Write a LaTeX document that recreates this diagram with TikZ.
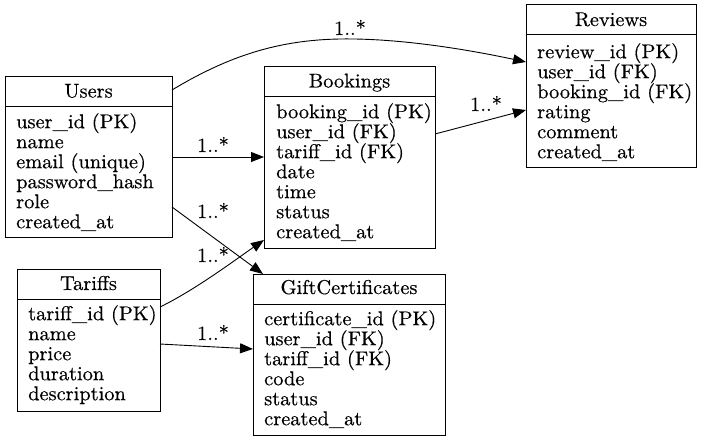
\documentclass[tikz,border=0pt]{standalone}
\usepackage{fontspec}
\setmainfont{lmroman10-regular.otf}[FakeStretch=1.02,FakeBold=0.5]
\usetikzlibrary{arrows.meta,calc}
\tikzset{
  tbl/.style={draw, line width=1pt, inner sep=0pt, outer sep=0pt, anchor=north west},
  hdr/.style={font=\fontsize{20}{20}\selectfont, inner sep=0pt, anchor=base},
  flds/.style={font=\fontsize{20}{20}\selectfont, inner sep=0pt, align=left, anchor=north west},
  card/.style={font=\fontsize{20}{20}\selectfont, inner sep=0pt, anchor=base},
  rel/.style={line width=0.9pt, -{Triangle[length=13pt,width=10pt]}},
  divl/.style={line width=1pt},
}
\begin{document}
\begin{tikzpicture}[x=1pt,y=-1pt]
\useasboundingbox (0,0) rectangle (703,441);
% tables
\node[tbl, minimum width=167pt, minimum height=160pt] (users) at (5,77) {};
\node[tbl, minimum width=171pt, minimum height=181pt] (bookings) at (264,67) {};
\node[tbl, minimum width=170pt, minimum height=162pt] (reviews) at (526,5) {};
\node[tbl, minimum width=143pt, minimum height=142pt] (tariffs) at (17,269) {};
\node[tbl, minimum width=192pt, minimum height=161pt] (gift) at (253,274) {};
% dividers
\foreach \t in {users,bookings,reviews,tariffs,gift}{
  \draw[divl] ($(\t.north west)+(0,-30pt)$) -- ($(\t.north east)+(0,-30pt)$);
}
% headers
\node[hdr] (usersh) at ($(users.north)+(0,-20.5pt)$) {Users};
\node[hdr] (bookingsh) at ($(bookings.north)+(0,-20.5pt)$) {Bookings};
\node[hdr] (reviewsh) at ($(reviews.north)+(0,-21pt)$) {Reviews};
\node[hdr] (tariffsh) at ($(tariffs.north)+(0,-21pt)$) {Tariffs};
\node[hdr] (gifth) at ($(gift.north)+(0,-20pt)$) {GiftCertificates};
% fields
\node[flds] (usersf) at ($(users.north west)+(11pt,-36pt)$)
  {user\_id (PK)\\name\\email (unique)\\password\_hash\\role\\created\_at};
\node[flds] (bookingsf) at ($(bookings.north west)+(12pt,-36pt)$)
  {booking\_id (PK)\\user\_id (FK)\\tariff\_id (FK)\\date\\time\\status\\created\_at};
\node[flds] (reviewsf) at ($(reviews.north west)+(11pt,-38pt)$)
  {review\_id (PK)\\user\_id (FK)\\booking\_id (FK)\\rating\\comment\\created\_at};
\node[flds] (tariffsf) at ($(tariffs.north west)+(11pt,-36pt)$)
  {tariff\_id (PK)\\name\\price\\duration\\description};
\node[flds] (giftf) at ($(gift.north west)+(11pt,-36pt)$)
  {certificate\_id (PK)\\user\_id (FK)\\tariff\_id (FK)\\code\\status\\created\_at};
% relations
\draw[rel] ($(users.north east)+(0,-13pt)$) .. controls (230,55) and (280,40) .. (340,39)
  .. controls (400,38) and (470,50) .. ($(reviews.north west)+(0,-57pt)$);
\node[card] (l1) at (350,35) {1..*};
\draw[rel] ($(users.north east)+(0,-80pt)$) -- ($(bookings.north west)+(0,-90pt)$);
\node[card] (l2) at (213,152) {1..*};
\draw[rel] ($(users.north east)+(0,-130pt)$) -- ($(gift.north west)+(10pt,0)$);
\node[card] (l3) at (213,218) {1..*};
\draw[rel] ($(tariffs.north east)+(0,-38pt)$) .. controls (195,290) and (235,260) .. ($(bookings.north west)+(0,-173pt)$);
\node[card] (l4) at (213,262) {1..*};
\draw[rel] ($(tariffs.north east)+(0,-75pt)$) -- ($(gift.north west)+(0,-75pt)$);
\node[card] (l5) at (213,340) {1..*};
\draw[rel] ($(bookings.north east)+(0,-67pt)$) -- ($(reviews.north west)+(0,-105pt)$);
\node[card] (l6) at (486,111) {1..*};
\end{tikzpicture}
\end{document}
